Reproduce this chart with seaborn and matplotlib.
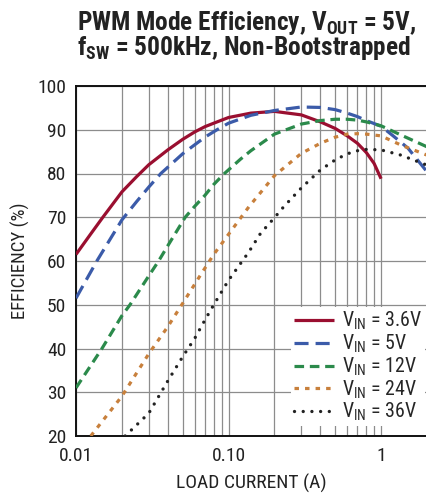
import matplotlib
matplotlib.use("Agg")
import matplotlib.pyplot as plt
import seaborn as sns
import pandas as pd

# ---- data ----
x_36 = [0.01, 0.0125, 0.015, 0.02, 0.025, 0.03, 0.04, 0.05, 0.06, 0.07, 0.08, 0.1, 0.14, 0.2, 0.3, 0.4, 0.5, 0.6, 0.7, 0.8, 0.9, 1.0]
y_36 = [61.5, 66.2, 70.0, 75.8, 79.3, 82.0, 85.4, 87.8, 89.5, 90.7, 91.5, 92.8, 93.8, 94.2, 93.4, 91.8, 90.3, 88.6, 86.9, 84.8, 82.3, 78.8]

x_5 = [0.01, 0.0137, 0.02, 0.025, 0.03, 0.036, 0.05, 0.07, 0.084, 0.1, 0.14, 0.2, 0.3, 0.4, 0.5, 0.6, 0.7, 0.8, 1.0, 1.2, 1.5, 2.0]
y_5 = [51.5, 60.0, 69.4, 73.6, 76.9, 80.0, 84.5, 88.3, 90.0, 91.5, 93.3, 94.4, 95.2, 95.1, 94.6, 93.8, 93.0, 92.1, 90.8, 88.6, 85.8, 80.4]

x_12 = [0.01, 0.0148, 0.02, 0.0226, 0.03, 0.0348, 0.04, 0.052, 0.06, 0.07, 0.08, 0.094, 0.12, 0.14, 0.2, 0.3, 0.4, 0.5, 0.6, 0.7, 0.8, 1.0, 1.35, 2.0]
y_12 = [31.0, 40.0, 47.5, 50.0, 56.6, 60.0, 63.5, 70.0, 72.5, 75.0, 77.5, 80.0, 83.3, 85.2, 89.0, 91.3, 92.1, 92.4, 92.4, 92.2, 91.8, 90.9, 88.8, 86.1]

x_24 = [0.0125, 0.02, 0.03, 0.04, 0.05, 0.0655, 0.08, 0.1, 0.136, 0.2, 0.3, 0.4, 0.5, 0.6, 0.7, 0.8, 1.0, 1.35, 2.0]
y_24 = [20.0, 29.1, 38.8, 45.0, 50.3, 56.8, 61.5, 66.1, 72.4, 79.5, 84.6, 86.9, 88.3, 89.0, 89.1, 89.0, 88.6, 86.5, 84.2]

x_36v = [0.021, 0.03, 0.04, 0.05, 0.06, 0.07, 0.08, 0.1, 0.136, 0.162, 0.2, 0.23, 0.3, 0.4, 0.5, 0.6, 0.7, 0.8, 1.0, 1.35, 2.0]
y_36v = [20.0, 25.2, 32.6, 38.1, 42.3, 46.5, 50.0, 55.6, 62.1, 66.3, 69.9, 72.4, 76.7, 80.8, 83.1, 84.5, 85.2, 85.5, 85.4, 84.2, 81.9]

labels = ["V$_\\mathregular{IN}$ = 3.6V", "V$_\\mathregular{IN}$ = 5V", "V$_\\mathregular{IN}$ = 12V",
          "V$_\\mathregular{IN}$ = 24V", "V$_\\mathregular{IN}$ = 36V"]
x_ticks = [0.01, 0.1, 1]
x_tick_labels = ["0.01", "0.10", "1"]
y_ticks = [20, 30, 40, 50, 60, 70, 80, 90, 100]

series = [(x_36, y_36), (x_5, y_5), (x_12, y_12), (x_24, y_24), (x_36v, y_36v)]
colors = ["#9a0f30", "#3b5ba9", "#2b8a4b", "#c8803c", "#222222"]
styles = ["-", (0, (4.4, 2.2)), (0, (3.0, 1.8)), (0, (1.4, 1.9)), (0, (0.01, 2.6))]
widths = [2.3, 2.3, 2.3, 2.3, 2.4]

sns.set_theme(style="white")
FONT = ["Roboto Condensed", "Liberation Sans Narrow", "DejaVu Sans"]
plt.rcParams["font.family"] = FONT
plt.rcParams["mathtext.fontset"] = "custom"

fig = plt.figure(figsize=(4.27, 4.96), dpi=100)
ax = fig.add_axes([76 / 427, 60 / 496, 351 / 427, 350 / 496])

for (xs, ys), lab, c, ls, lw in zip(series, labels, colors, styles, widths):
    df = pd.DataFrame({"x": xs, "y": ys})
    sns.lineplot(data=df, x="x", y="y", ax=ax, color=c, linewidth=lw,
                 linestyle=ls, label=lab, solid_capstyle="butt",
                 dash_capstyle="round" if lab.endswith("36V") else "butt", zorder=3)

ax.set_xscale("log")
ax.set_xlim(0.01, 2)
ax.set_ylim(20, 100)
ax.set_xticks(x_ticks)
ax.set_xticklabels(x_tick_labels)
ax.set_yticks(y_ticks)
ax.grid(True, which="both", color="#8c8c8c", linewidth=0.9, zorder=0)
ax.tick_params(axis="both", which="both", length=0, labelsize=14, colors="#222222")
ax.tick_params(axis="x", pad=8)
ax.tick_params(axis="y", pad=7)
for s in ["left", "bottom", "top"]:
    ax.spines[s].set_visible(True)
    ax.spines[s].set_color("#111111")
    ax.spines[s].set_linewidth(1.4)
ax.spines["right"].set_visible(False)

ax.set_xlabel("LOAD CURRENT (A)", fontsize=14, color="#222222", labelpad=6)
ax.set_ylabel("EFFICIENCY (%)", fontsize=13.5, color="#222222", labelpad=5)

leg = ax.legend(loc="lower right", bbox_to_anchor=(0.995, 0.028), fontsize=14.3,
                frameon=True, fancybox=False, framealpha=1.0, edgecolor="white",
                handlelength=2.0, handletextpad=0.4, labelspacing=0.02,
                borderpad=0.15, borderaxespad=0.0)
leg.get_frame().set_linewidth(0)
leg.set_zorder(5)

fig.text(77 / 427, 1 - 30 / 496, "PWM Mode Efficiency, V$_\\mathregular{OUT}$ = 5V,",
         fontsize=18.3, fontweight="bold", ha="left", va="baseline", color="#222222")
fig.text(77 / 427, 1 - 55 / 496, "f$_\\mathregular{SW}$ = 500kHz, Non-Bootstrapped",
         fontsize=18.3, fontweight="bold", ha="left", va="baseline", color="#222222")

fig.savefig("out.png", dpi=100)
